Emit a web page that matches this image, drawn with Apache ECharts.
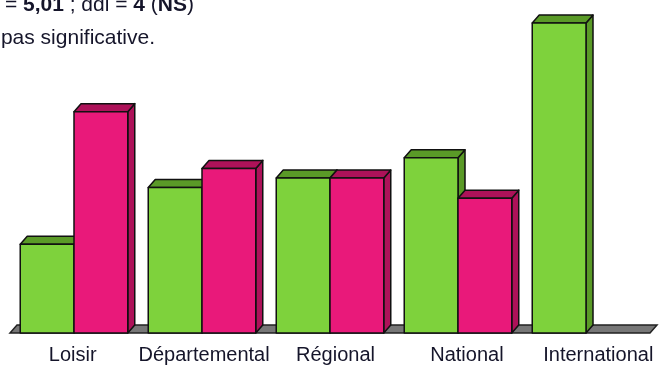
<!DOCTYPE html>
<html>
<head>
<meta charset="utf-8">
<script src="https://cdn.jsdelivr.net/npm/echarts@6/dist/echarts.min.js"></script>
<style>
	html, body { margin: 0; padding: 0; background: #fff; }
	#chart { width: 664px; height: 367px; }
</style>
</head>
<body>
<div id="chart"></div>
<script>
	// 数据
	var categories = ['Loisir', 'Départemental', 'Régional', 'National', 'International'];
	var greenValues = [28.6, 46.9, 50, 56.5, 100];
	var pinkValues = [71.4, 53.1, 50, 43.5, 0];

	var DX = 7, DY = 8; // 3D深度偏移
	var FONT = '"Liberation Sans", Arial, sans-serif';

	//3D柱子
	function barRender(side, front, dark) {
		return function (params, api) {
			var idx = api.value(0), val = api.value(1);
			if (!val) return;
			var top = api.coord([idx, val]);
			var base = api.coord([idx, 0]);
			var w = api.size([1, 0])[0] * 0.42;
			var x0 = side < 0 ? top[0] - w : top[0];
			var ty = top[1], by = base[1];
			var st = { stroke: '#111', lineWidth: 1.5, lineJoin: 'round' };
			return {
				type: 'group',
				children: [
					{ type: 'polygon', shape: { points: [[x0 + w, ty], [x0 + w + DX, ty - DY], [x0 + w + DX, by - DY], [x0 + w, by]] },
						style: Object.assign({ fill: dark }, st) },
					{ type: 'polygon', shape: { points: [[x0, ty], [x0 + w, ty], [x0 + w + DX, ty - DY], [x0 + DX, ty - DY]] },
						style: Object.assign({ fill: dark }, st) },
					{ type: 'rect', shape: { x: x0, y: ty, width: w, height: by - ty },
						style: Object.assign({ fill: front }, st) }
				]
			};
		};
	}

	//地板
	function floorRender(params, api) {
		var p = api.coord([0, 0]);
		var bw = api.size([1, 0])[0];
		var L = p[0] - bw / 2, R = L + bw * categories.length, by = p[1];
		return {
			type: 'polygon',
			shape: { points: [[L, by], [R, by], [R + DX, by - DY], [L + DX, by - DY]] },
			style: { fill: '#777', stroke: '#222', lineWidth: 1.5 }
		};
	}

	var option = {
		animation: false,
		grid: [
			{ left: 10, right: 14, top: 23, bottom: 34 },
			{ left: 7, right: -4, top: 333, height: 1 }
		],
		xAxis: [
			{ type: 'category', data: categories, gridIndex: 0, show: false },
			{
				type: 'category', data: categories, gridIndex: 1,
				axisLine: { show: false }, axisTick: { show: false },
				axisLabel: { margin: 11, fontSize: 20, fontFamily: FONT, color: '#15152a', interval: 0 }
			}
		],
		yAxis: [
			{ type: 'value', min: 0, max: 100, gridIndex: 0, show: false },
			{ type: 'value', gridIndex: 1, show: false }
		],
		graphic: [
			{
				type: 'text', x: 194, y: 5,
				style: {
					text: 'Chi2 = {b|5,01} ; ddl = {b|4} ({b|NS})',
					align: 'right', verticalAlign: 'middle',
					font: '21px ' + FONT, fill: '#15152a',
					rich: { b: { fontWeight: 'bold', fontSize: 21, fontFamily: FONT, fill: '#15152a' } }
				}
			},
			{
				type: 'text', x: 155, y: 38,
				style: {
					text: "La dépendance n'est pas significative.",
					align: 'right', verticalAlign: 'middle',
					font: '21px ' + FONT, fill: '#15152a'
				}
			}
		],
		series: [
			{ type: 'custom', name: 'floor', renderItem: floorRender, data: [[0, 0]], z: 1 },
			{
				type: 'custom', name: 'green', z: 2,
				renderItem: barRender(-1, '#7ed23c', '#5a9a27'),
				data: greenValues.map(function (v, i) { return [i, v]; })
			},
			{
				type: 'custom', name: 'pink', z: 3,
				renderItem: barRender(1, '#e9197a', '#ad1259'),
				data: pinkValues.map(function (v, i) { return [i, v]; })
			}
		]
	};

	var myChart = echarts.init(document.getElementById('chart'));
	myChart.setOption(option);
</script>
</body>
</html>
